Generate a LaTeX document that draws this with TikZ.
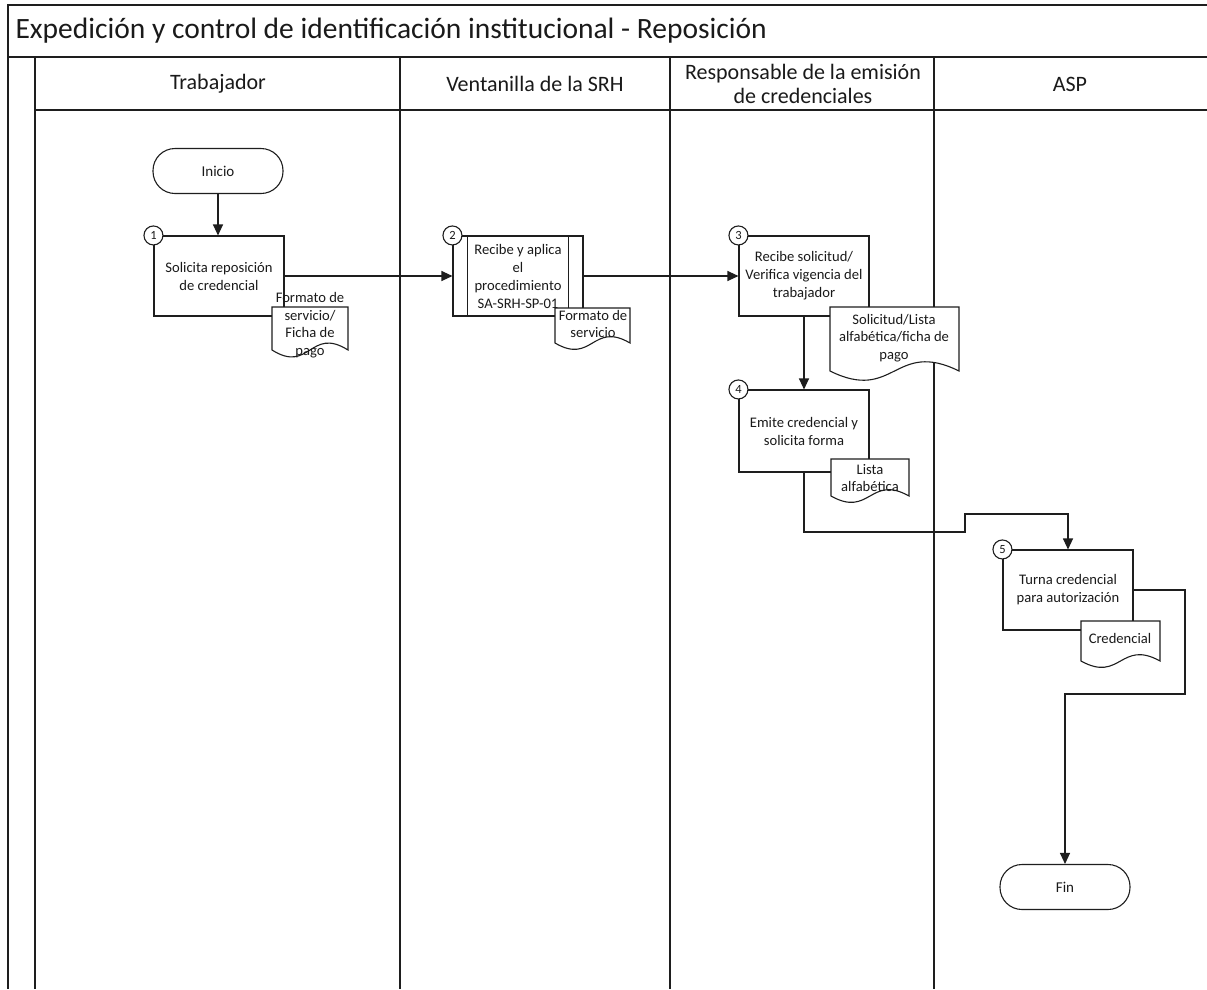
\documentclass[tikz,border=0pt]{standalone}
\usepackage{fontspec}
\setmainfont{Carlito}
\usetikzlibrary{arrows.meta}
\definecolor{ln}{HTML}{1E1E1E}
\definecolor{tx}{HTML}{1A1A1A}
\newcommand{\mydoc}[5]{% x1, y1, x2, ybase, wave control
  \filldraw[docline] (#1,#2) -- (#3,#2) -- (#3,#4)
    .. controls ({(#1+#3)/2},{#4-#5}) and ({(#1+#3)/2},{#4+#5}) .. (#1,#4) -- cycle;}
\begin{document}
\begin{tikzpicture}[x=1pt,y=-1pt,
  lane/.style={draw=ln, line width=1.4pt},
  box/.style={draw=ln, line width=1.1pt, fill=white, minimum width=130pt, minimum height=80pt,
    inner sep=1pt, align=center, text=tx, font=\fontsize{14.6}{18}\selectfont},
  term/.style={draw=ln, line width=1.1pt, fill=white, rounded corners=22pt, minimum width=130pt,
    minimum height=45pt, text=tx, font=\fontsize{15}{18}\selectfont},
  circ/.style={draw=ln, line width=1.1pt, fill=white, circle, minimum size=19pt, inner sep=0pt,
    text=tx, font=\fontsize{12.5}{12.5}\selectfont},
  docline/.style={draw=ln, line width=1.1pt, fill=white},
  doctext/.style={align=center, text=tx, inner sep=0pt, font=\fontsize{14.6}{17.5}\selectfont},
  hdr/.style={align=center, text=tx, font=\fontsize{22}{24}\selectfont},
  arr/.style={draw=ln, line width=1.1pt, -{Triangle[length=11pt,width=10pt]}},
  conn/.style={draw=ln, line width=1.1pt}]
\useasboundingbox (0,0) rectangle (1207,989);
\fill[white] (0,0) rectangle (1207,989);

% frame and lanes
\draw[lane] (1207,5) -- (8,5) -- (8,989);
\draw[lane] (8,57) -- (1207,57);
\draw[lane] (35,110) -- (1207,110);
\draw[lane] (35,57) -- (35,989);
\draw[lane] (400,57) -- (400,989);
\draw[lane] (670,57) -- (670,989);
\draw[lane] (934,57) -- (934,989);

\node[anchor=west, text=tx, font=\fontsize{29.5}{32}\selectfont] (title) at (12,31)
  {Expedición y control de identificación institucional - Reposición};
\node[hdr] (h1) at (218,84) {Trabajador};
\node[hdr] (h2) at (535,84) {Ventanilla de la SRH};
\node[hdr] (h3) at (803,84) {Responsable de la emisión\\de credenciales};
\node[hdr] (h4) at (1070,84) {ASP};

% nodes
\node[term] (ini) at (218,171) {Inicio};
\node[box] (b1) at (219,276) {Solicita reposición\\de credencial};
\node[box] (b2) at (518,276) {Recibe y aplica\\el\\procedimiento\\SA-SRH-SP-01};
\draw[conn] ([xshift=15pt]b2.north west) -- ([xshift=15pt]b2.south west);
\draw[conn] ([xshift=-15pt]b2.north east) -- ([xshift=-15pt]b2.south east);
\node[box] (b3) at (804,276) {Recibe solicitud/\\Verifica vigencia del\\trabajador};
\node[box, minimum height=82pt] (b4) at (804,431) {Emite credencial y\\solicita forma};
\node[box] (b5) at (1068,590) {Turna credencial\\para autorización};
\node[term] (fin) at (1065,887) {Fin};

\node[circ] (n1) at (b1.north west) {1};
\node[circ] (n2) at (b2.north west) {2};
\node[circ] (n3) at (b3.north west) {3};
\node[circ] (n4) at (b4.north west) {4};
\node[circ] (n5) at (b5.north west) {5};

% connectors
\coordinate (k1) at (965,532);
\coordinate (k2) at (965,514);
\coordinate (k3) at (1185,694);
\draw[arr] (ini.south) -- (b1.north -| ini.south);
\draw[arr] (b1.east) -- (b2.west);
\draw[arr] (b2.east) -- (b3.west);
\draw[arr] (b3.south) -- (b4.north);
\draw[arr] (b4.south) |- (k1) -- (k2) -| (b5.north);
\draw[arr] (b5.east) -| (k3) -| (fin.north);

% documents
\mydoc{272}{307}{348}{350}{24}
\node[doctext] (d1) at (310,325) {Formato de\\servicio/\\Ficha de\\pago};
\mydoc{555}{308}{630}{343}{22}
\node[doctext] (d2) at (593,324) {Formato de\\servicio};
\mydoc{830}{307}{959}{371}{32}
\node[doctext] (d3) at (894,338) {Solicitud/Lista\\alfabética/ficha de\\pago};
\mydoc{831}{459}{909}{496}{22}
\node[doctext] (d4) at (870,478) {Lista\\alfabética};
\mydoc{1081}{621}{1160}{661}{22}
\node[doctext] (d5) at (1120,638) {Credencial};
\end{tikzpicture}
\end{document}
